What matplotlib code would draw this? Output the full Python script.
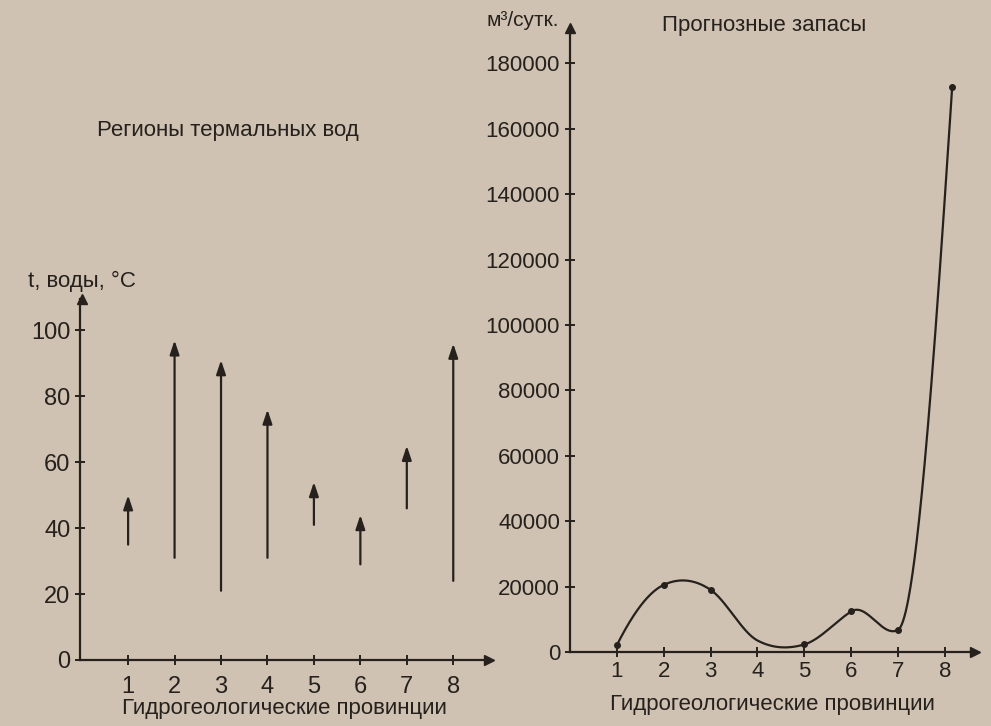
import numpy as np
import matplotlib
matplotlib.use('Agg')
import matplotlib.pyplot as plt

plt.rcParams['font.family'] = ['Liberation Sans', 'DejaVu Sans']

# left chart: temperature range of thermal waters per province
provinces = [1, 2, 3, 4, 5, 6, 7, 8]
t_low = [35, 31, 21, 31, 41, 29, 46, 24]
t_high = [50, 97, 91, 76, 54, 44, 65, 96]

# right chart: forecast reserves, m3/day (curve read at each province, dots where drawn)
curve_x = [1, 2, 3, 4, 5, 6, 7, 8.15]
curve_y = [2000, 20500, 19000, 3500, 2300, 12400, 6800, 172700]
dot_x = [1, 2, 3, 5, 6, 7, 8.15]
dot_y = [2000, 20500, 19000, 2300, 12400, 6800, 172700]

bg = '#cfc2b2'
ink = '#26211d'


def akima(x, y, xs):
    # akima spline, numpy only
    x = np.asarray(x, float)
    y = np.asarray(y, float)
    h = np.diff(x)
    m = np.diff(y) / h
    mm = np.concatenate([[3 * m[0] - 2 * m[1], 2 * m[0] - m[1]], m,
                         [2 * m[-1] - m[-2], 3 * m[-1] - 2 * m[-2]]])
    d = np.zeros_like(y)
    for i in range(len(x)):
        a, b, c, e = mm[i], mm[i + 1], mm[i + 2], mm[i + 3]
        w1 = abs(e - c)
        w2 = abs(b - a)
        d[i] = (b + c) / 2 if w1 + w2 == 0 else (w1 * b + w2 * c) / (w1 + w2)
    out = np.empty_like(xs)
    for i, xv in enumerate(xs):
        k = int(np.clip(np.searchsorted(x, xv) - 1, 0, len(x) - 2))
        t = (xv - x[k]) / h[k]
        h00 = 2 * t**3 - 3 * t**2 + 1
        h10 = t**3 - 2 * t**2 + t
        h01 = -2 * t**3 + 3 * t**2
        h11 = t**3 - t**2
        out[i] = h00 * y[k] + h10 * h[k] * d[k] + h01 * y[k + 1] + h11 * h[k] * d[k + 1]
    return out


fig = plt.figure(figsize=(9.91, 7.26), dpi=100, facecolor=bg)


def style_axes(ax, size):
    ax.set_facecolor('none')
    for s in ['top', 'right']:
        ax.spines[s].set_visible(False)
    for s in ['left', 'bottom']:
        ax.spines[s].set_color(ink)
        ax.spines[s].set_linewidth(1.6)
    ax.tick_params(colors=ink, direction='inout', length=7, width=1.4, labelsize=size)
    # arrow heads at the axis ends
    ax.plot(1, 0, '>', color=ink, ms=7, transform=ax.get_yaxis_transform(), clip_on=False)
    ax.plot(0, 1, '^', color=ink, ms=7, transform=ax.get_xaxis_transform(), clip_on=False)


# ---- left chart
ax1 = fig.add_axes([0.081, 0.091, 0.412, 0.497])
style_axes(ax1, 17)
ax1.set_xlim(-0.03, 8.76)
ax1.set_ylim(0, 109.5)
ax1.set_yticks([0, 20, 40, 60, 80, 100])
ax1.set_xticks(provinces)
ax1.tick_params(axis='x', pad=8)
for p, lo, hi in zip(provinces, t_low, t_high):
    ax1.annotate('', xy=(p, hi), xytext=(p, lo),
                 arrowprops=dict(arrowstyle='-|>,head_length=0.6,head_width=0.2', color=ink,
                                 lw=1.6, mutation_scale=14, shrinkA=0, shrinkB=0))
ax1.set_xlabel('Гидрогеологические провинции', fontsize=16, color=ink, labelpad=0)
fig.text(0.028, 0.598, 't, воды, °C', fontsize=16, color=ink, ha='left', va='bottom')
fig.text(0.098, 0.82, 'Регионы термальных вод', fontsize=16, color=ink, ha='left', va='center')

# ---- right chart
ax2 = fig.add_axes([0.575, 0.102, 0.409, 0.859])
style_axes(ax2, 16)
ax2.set_xlim(0, 8.64)
ax2.set_ylim(0, 190700)
ax2.set_yticks(np.arange(0, 180001, 20000))
ax2.set_xticks(provinces)
ax2.tick_params(axis='x', pad=3)
xs = np.linspace(curve_x[0], curve_x[-1], 500)
ax2.plot(xs, akima(curve_x, curve_y, xs), color=ink, lw=1.6)
ax2.plot(dot_x, dot_y, 'o', color=ink, ms=4)
ax2.set_xlabel('Гидрогеологические провинции', fontsize=16, color=ink, labelpad=9)
fig.text(0.491, 0.972, 'м³/сутк.', fontsize=15, color=ink, ha='left', va='center')
fig.text(0.771, 0.965, 'Прогнозные запасы', fontsize=16, color=ink, ha='center', va='center')

fig.savefig('out.png', dpi=100, facecolor=bg)
